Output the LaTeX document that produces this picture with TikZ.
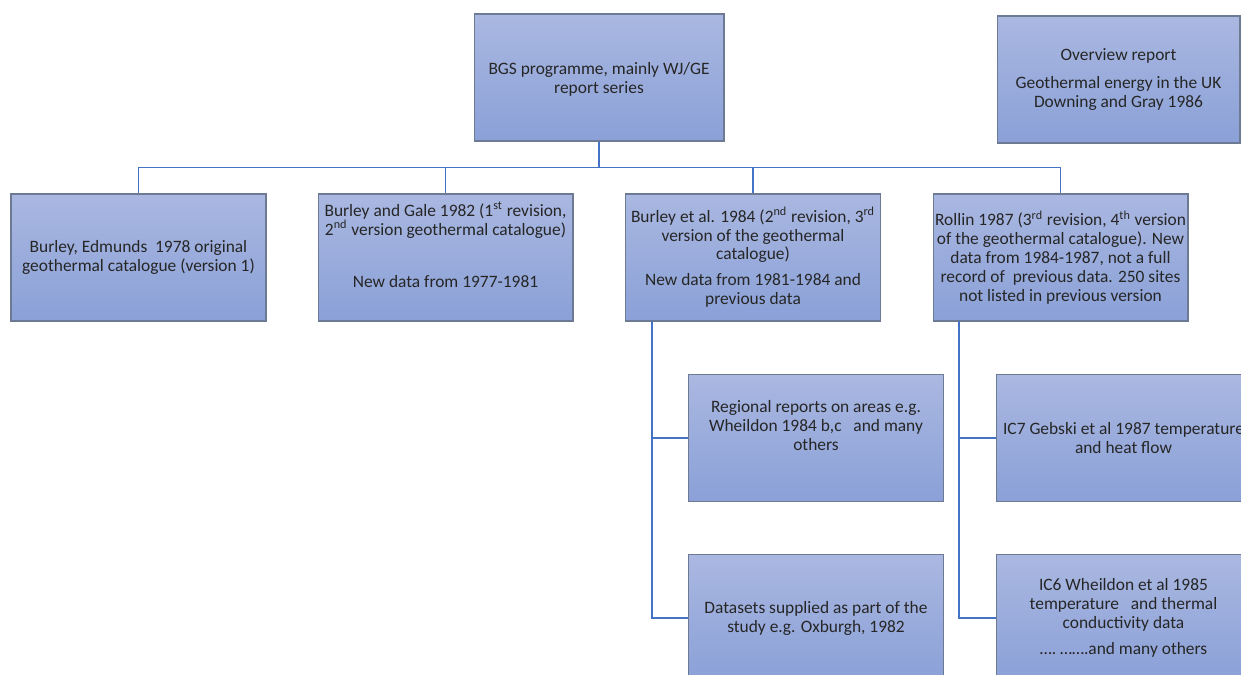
\documentclass[tikz,border=0pt]{standalone}
\usepackage{fontspec}
\setmainfont{Carlito}
\begin{document}
\begin{tikzpicture}[x=0.02cm,y=-0.02cm]
\definecolor{boxtop}{HTML}{AAB8E1}
\definecolor{boxbot}{HTML}{8AA0D7}
\definecolor{boxline}{HTML}{6D7A94}
\definecolor{link}{HTML}{4472C4}
\definecolor{txt}{HTML}{262626}
\tikzset{
 box/.style={draw=boxline, line width=0.6pt, top color=boxtop, bottom color=boxbot,
   minimum width=5.1cm, minimum height=2.54cm, align=center, inner sep=0pt,
   font=\fontsize{9.9}{10.8}\selectfont, text=txt},
 conn/.style={draw=link, line width=1.1pt}
}
\useasboundingbox (0,0) rectangle (1241,675);
\clip (0,0) rectangle (1241,675);
% top level
\node[box, minimum width=5cm] (top) at (599,77.5) {\rule{0pt}{9pt}BGS programme, mainly WJ/GE\\report series};
\node[box, minimum width=4.86cm] (ov) at (1118.5,79.5) {Overview report\\[5pt]Geothermal energy in the UK\\Downing and Gray 1986};
% level 1
\node[box] (b1) at (138.5,257.5) {Burley, Edmunds\ \ 1978 original\\geothermal catalogue (version 1)};
\node[box] (b2) at (445.5,257.5) {Burley and Gale 1982 (1\textsuperscript{st} revision,\\2\textsuperscript{nd} version geothermal catalogue)\\[4pt]\mbox{}\\[4pt]New data from 1977-1981\\[4pt]\mbox{}};
\node[box] (b3) at (753,257.5) {Burley et al. 1984 (2\textsuperscript{nd} revision, 3\textsuperscript{rd}\\version of the geothermal\\catalogue)\\[4pt]New data from 1981-1984 and\\previous data};
\node[box] (b4) at (1060.5,257.5) {Rollin 1987 (3\textsuperscript{rd} revision, 4\textsuperscript{th} version\\of the geothermal catalogue). New\\data from 1984-1987, not a full\\record of\ \ previous data. 250 sites\\not listed in previous version};
% level 2
\node[box] (c31) at (816,438) {Regional reports on areas e.g.\\Wheildon 1984 b,c\ \ \ and many\\others\\[4pt]\mbox{}};
\node[box] (c32) at (816,618) {Datasets supplied as part of the\\study e.g. Oxburgh, 1982};
\node[box] (c41) at (1123.5,438) {IC7 Gebski et al 1987 temperature\\and heat flow};
\node[box] (c42) at (1123.5,618) {IC6 Wheildon et al 1985\\temperature\ \ \ and thermal\\conductivity data\\[4pt]\dots.\ \dots\dots.and many others};
% connectors
\draw[conn] (top.south) -- ++(0,26) coordinate (bus);
\draw[conn] (bus) -| (b1.north);
\draw[conn] (bus) -| (b2.north);
\draw[conn] (bus) -| (b3.north);
\draw[conn] (bus) -| (b4.north);
\coordinate (s3) at (652,321);
\coordinate (s4) at (959,321);
\draw[conn] (s3) |- (c31.west);
\draw[conn] (s3) |- (c32.west);
\draw[conn] (s4) |- (c41.west);
\draw[conn] (s4) |- (c42.west);
\end{tikzpicture}
\end{document}
